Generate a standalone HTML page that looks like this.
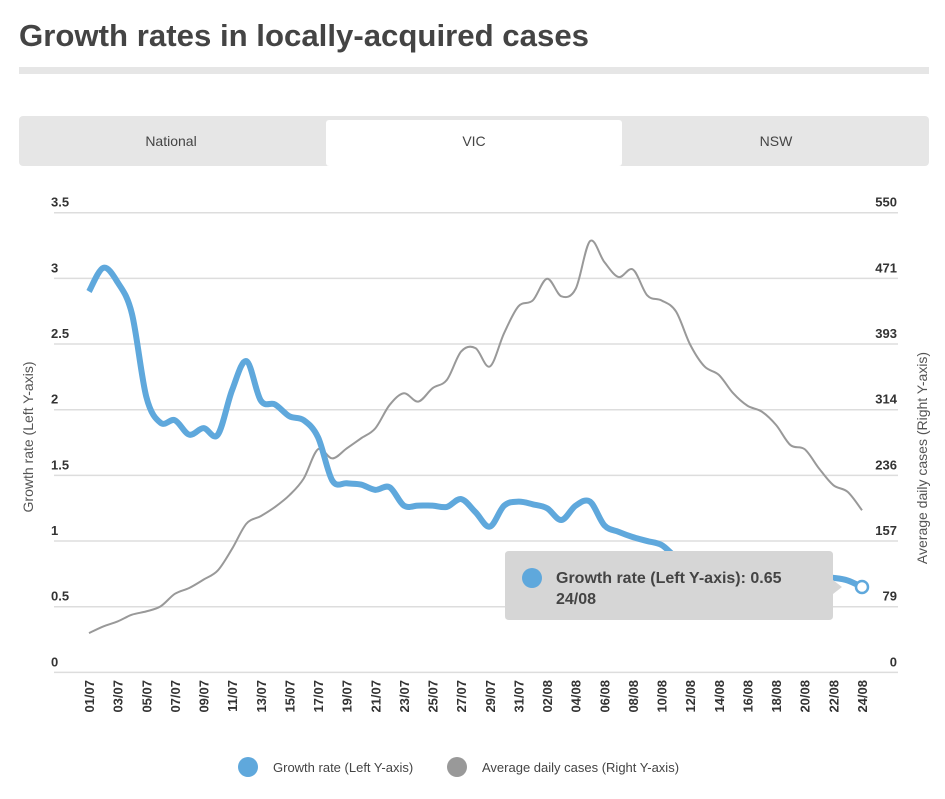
<!DOCTYPE html>
<html><head><meta charset="utf-8"><style>
body{margin:0;background:#fff;width:945px;height:794px;overflow:hidden;font-family:"Liberation Sans",sans-serif;}
</style></head><body>
<svg width="945" height="794" id="svg" xmlns="http://www.w3.org/2000/svg" font-family="Liberation Sans, sans-serif">
<text x="19" y="46" font-size="31" font-weight="bold" fill="#444" textLength="570" lengthAdjust="spacingAndGlyphs">Growth rates in locally-acquired cases</text>
<rect x="19" y="67" width="910" height="7" fill="#e6e6e6"/>
<rect x="19" y="116" width="910" height="50" rx="4" fill="#e6e6e6"/>
<g><text x="171" y="146" font-size="14" fill="#444" text-anchor="middle">National</text></g>
<g><rect x="326" y="120" width="296" height="46" rx="3" fill="#fff"/><text x="474" y="146" font-size="14" fill="#444" text-anchor="middle">VIC</text></g>
<g><text x="776" y="146" font-size="14" fill="#444" text-anchor="middle">NSW</text></g>
<g id="grid"></g><g id="xl"></g>
<path id="gray" fill="none" stroke="#999" stroke-width="2"/>
<path id="blue" fill="none" stroke="#5fa8dc" stroke-width="6" stroke-linejoin="round"/>
<circle id="hover" r="6" fill="#fff" stroke="#5fa8dc" stroke-width="2.5"/>
<g>
<path d="M509 551 H829 Q833 551 833 555 V580 L842 587 L833 594 V616 Q833 620 829 620 H509 Q505 620 505 616 V555 Q505 551 509 551 Z" fill="#d6d6d6"/>
<circle cx="532" cy="578" r="10" fill="#5fa8dc"/>
<text x="556" y="583" font-size="16" font-weight="bold" fill="#444">Growth rate (Left Y-axis): 0.65</text>
<text x="556" y="604" font-size="16" font-weight="bold" fill="#444">24/08</text>
</g>
<text transform="translate(33,437) rotate(-90)" font-size="14" fill="#555" text-anchor="middle">Growth rate (Left Y-axis)</text>
<text transform="translate(927,458) rotate(-90)" font-size="14" fill="#555" text-anchor="middle">Average daily cases (Right Y-axis)</text>
<g><circle cx="248" cy="767" r="10" fill="#5fa8dc"/><text x="273" y="772" font-size="13" fill="#444">Growth rate (Left Y-axis)</text></g>
<g><circle cx="457" cy="767" r="10" fill="#999"/><text x="482" y="772" font-size="13" fill="#444">Average daily cases (Right Y-axis)</text></g>
</svg>
<script>
const growth=[2.90,3.08,2.97,2.73,2.10,1.90,1.92,1.81,1.86,1.81,2.15,2.37,2.07,2.04,1.95,1.92,1.79,1.46,1.44,1.43,1.39,1.41,1.27,1.27,1.27,1.26,1.32,1.22,1.11,1.27,1.30,1.28,1.25,1.16,1.27,1.30,1.12,1.07,1.03,1.00,0.97,0.88,0.84,0.80,0.78,0.76,0.74,0.73,0.72,0.71,0.71,0.73,0.72,0.70,0.65];
const cases=[47,55,61,69,73,79,94,101,111,122,148,178,187,198,212,232,267,256,268,280,292,320,334,324,340,350,384,388,366,406,438,445,471,450,459,516,491,473,482,451,445,432,392,366,356,334,319,312,296,272,267,244,224,216,194];
const leftTicks=["0","0.5","1","1.5","2","2.5","3","3.5"];
const rightTicks=["0","79","157","236","314","393","471","550"];
const startDay=1;
const NS="http://www.w3.org/2000/svg";
const x0=89,x1=862,yb=672.4,yt=212.7;
const xs=i=>x0+(x1-x0)*i/(growth.length-1);
const yl=v=>yb-(yb-yt)*v/3.5;
const yr=v=>yb-(yb-yt)*v/550;
function mk(t,a,p){const e=document.createElementNS(NS,t);for(const k in a)e.setAttribute(k,a[k]);p.appendChild(e);return e;}
const g=document.getElementById('grid');
leftTicks.forEach((t,i)=>{const y=yb-(yb-yt)*i/7;
const ln=mk('line',{x1:54,x2:898,y1:y,y2:y,stroke:'#ddd','stroke-width':1.5},g);


const a=mk('text',{x:51,y:y-6,'font-size':13,'font-weight':'bold',fill:'#333'},g);a.textContent=t;


const b=mk('text',{x:897,y:y-6,'font-size':13,'font-weight':'bold',fill:'#333','text-anchor':'end'},g);b.textContent=rightTicks[i];

});
const xl=document.getElementById('xl');
for(let i=0;i<growth.length;i+=2){const d=new Date(2020,6,startDay+i);
const s=String(d.getDate()).padStart(2,'0')+'/'+String(d.getMonth()+1).padStart(2,'0');
const t=mk('text',{transform:`translate(${xs(i)+5},680) rotate(-90)`,'font-size':13,'font-weight':'bold',fill:'#333','text-anchor':'end'},xl);t.textContent=s;

}
function path(vals,fy){const p=vals.map((v,i)=>[xs(i),fy(v)]);let d='M'+p[0];
for(let i=0;i<p.length-1;i++){const a=p[Math.max(0,i-1)],b=p[i],c=p[i+1],e=p[Math.min(p.length-1,i+2)];const k=1/6;
d+=` C${b[0]+(c[0]-a[0])*k},${b[1]+(c[1]-a[1])*k} ${c[0]-(e[0]-b[0])*k},${c[1]-(e[1]-b[1])*k} ${c[0]},${c[1]}`;}return d;}
document.getElementById('gray').setAttribute('d',path(cases,yr));
document.getElementById('blue').setAttribute('d',path(growth,yl));
const h=document.getElementById('hover');const n=growth.length-1;h.setAttribute('cx',xs(n));h.setAttribute('cy',yl(growth[n]));
</script>
</body></html>
